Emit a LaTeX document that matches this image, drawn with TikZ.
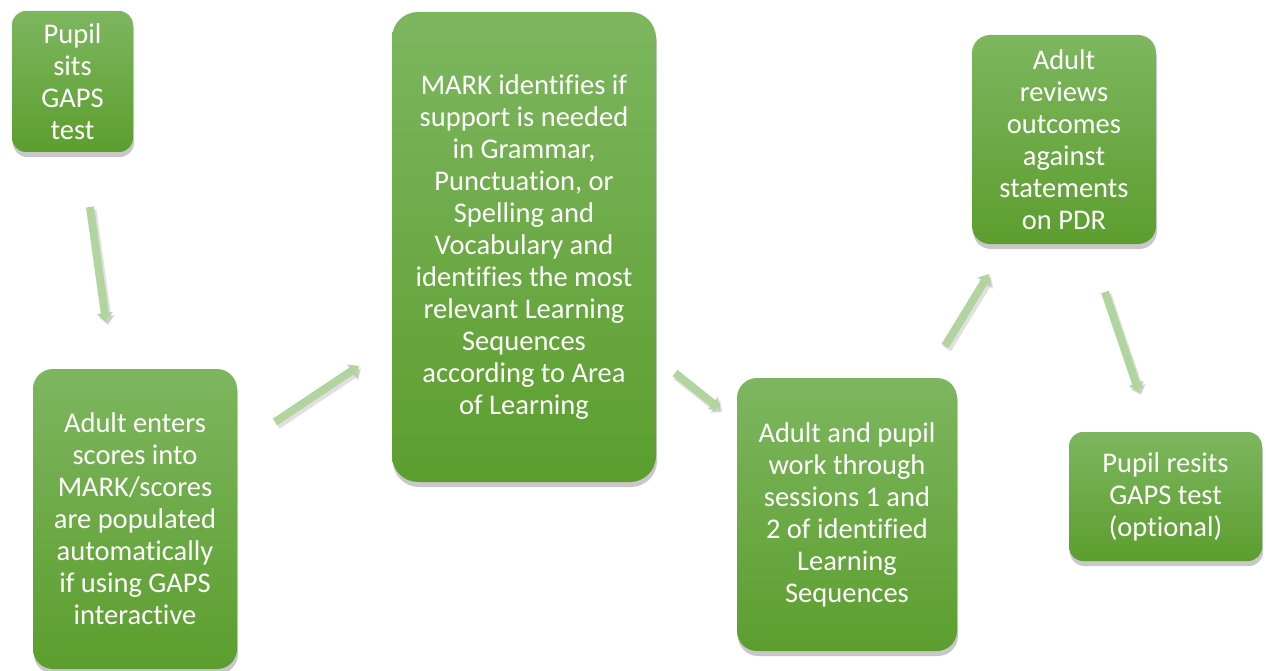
\documentclass[tikz,border=0pt]{standalone}
\usepackage{fontspec}
\setmainfont[Ligatures=NoCommon]{Carlito}
\usetikzlibrary{shadows,arrows.meta}
\definecolor{gtop}{HTML}{7DB65F}
\definecolor{gbot}{HTML}{5C9E2E}
\definecolor{arr}{HTML}{B2D49F}
\tikzset{
  stepbox/.style={draw=none, top color=gtop, bottom color=gbot, text=white,
    align=center, inner sep=0pt,
    font=\fontsize{28.5}{32}\selectfont,
    drop shadow={shadow xshift=1pt, shadow yshift=-5pt, opacity=0.3, fill=black!70}},
  flowarrow/.style={line width=8pt, draw=arr, -{Triangle[width=15pt,length=9pt]}},
  flowshadow/.style={line width=9pt, draw=black, opacity=0.12, -{Triangle[width=16pt,length=9pt]}}
}
\begin{document}
\begin{tikzpicture}[x=1pt,y=-1pt]
\useasboundingbox (0,0) rectangle (1266,671);
\fill[white] (0,0) rectangle (1266,671);

\node[stepbox, rounded corners=14pt, minimum width=121pt, minimum height=141pt] (n1) at (72.5,81.5)
  {Pupil\\sits\\GAPS\\test};
\node[stepbox, rounded corners=20pt, minimum width=204pt, minimum height=300pt] (n2) at (135,519)
  {Adult enters\\scores into\\MARK/scores\\are populated\\automatically\\if using GAPS\\interactive};
\node[stepbox, rounded corners=26pt, minimum width=264pt, minimum height=470pt] (n3) at (524,247)
  {MARK identifies if\\support is needed\\in Grammar,\\Punctuation, or\\Spelling and\\Vocabulary and\\identifies the most\\relevant Learning\\Sequences\\according to Area\\of Learning};
\node[stepbox, rounded corners=20pt, minimum width=220pt, minimum height=273pt] (n4) at (847,514.5)
  {Adult and pupil\\work through\\sessions 1 and\\2 of identified\\Learning\\Sequences};
\node[stepbox, rounded corners=18pt, minimum width=184pt, minimum height=209pt] (n5) at (1064,139.5)
  {Adult\\reviews\\outcomes\\against\\statements\\on PDR};
\node[stepbox, rounded corners=14pt, minimum width=193pt, minimum height=129pt] (n6) at (1165.5,496.5)
  {Pupil resits\\GAPS test\\(optional)};

\coordinate (a1s) at (90,207);   \coordinate (a1e) at (106,322);
\coordinate (a2s) at (275,422);  \coordinate (a2e) at (359,366);
\coordinate (a3s) at (675,373);  \coordinate (a3e) at (720,409);
\coordinate (a4s) at (945,346);  \coordinate (a4e) at (989,274);
\coordinate (a5s) at (1105,292); \coordinate (a5e) at (1139,392);

\foreach \s/\e in {a1s/a1e,a2s/a2e,a3s/a3e,a4s/a4e,a5s/a5e}{
  \draw[flowshadow, transform canvas={xshift=2pt,yshift=-3pt}] (\s) -- (\e);
  \draw[flowarrow] (\s) -- (\e);
}
\end{tikzpicture}
\end{document}
